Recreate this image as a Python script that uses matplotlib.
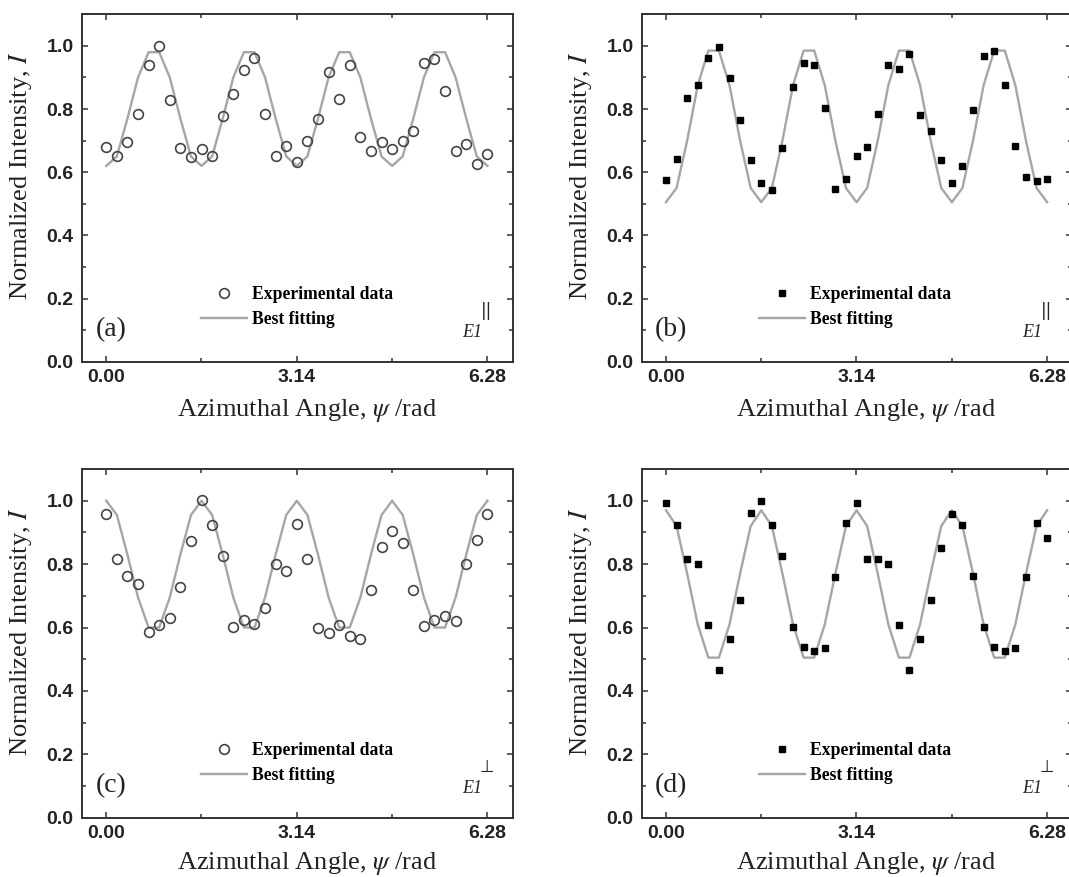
import numpy as np
import matplotlib
matplotlib.use("Agg")
import matplotlib.pyplot as plt
from matplotlib.ticker import FixedLocator, MultipleLocator

# azimuthal angle, sampled every 10 degrees
angle_deg = np.arange(0, 361, 10)
psi = np.deg2rad(angle_deg)

# (a) E1 parallel, open circles
exp_a = [0.681, 0.651, 0.696, 0.785, 0.941, 1.000, 0.830, 0.677, 0.648, 0.672,
         0.651, 0.778, 0.849, 0.923, 0.962, 0.785, 0.652, 0.683, 0.633, 0.699,
         0.768, 0.917, 0.833, 0.941, 0.711, 0.666, 0.697, 0.672, 0.700, 0.730,
         0.946, 0.959, 0.857, 0.667, 0.688, 0.626, 0.658]
fit_a = [0.62, 0.65, 0.77, 0.90, 0.98, 0.98, 0.90, 0.77, 0.65,
         0.62, 0.65, 0.77, 0.90, 0.98, 0.98, 0.90, 0.77, 0.65,
         0.62, 0.65, 0.77, 0.90, 0.98, 0.98, 0.90, 0.77, 0.65,
         0.62, 0.65, 0.77, 0.90, 0.98, 0.98, 0.90, 0.77, 0.65, 0.62]

# (b) E1 parallel, squares
exp_b = [0.576, 0.642, 0.835, 0.876, 0.963, 0.998, 0.899, 0.766, 0.640, 0.566,
         0.545, 0.676, 0.871, 0.946, 0.938, 0.804, 0.546, 0.577, 0.650, 0.679,
         0.785, 0.938, 0.927, 0.974, 0.780, 0.730, 0.640, 0.566, 0.619, 0.797,
         0.968, 0.983, 0.876, 0.683, 0.584, 0.571, 0.577]
fit_b = [0.505, 0.55, 0.70, 0.875, 0.985, 0.985, 0.875, 0.70, 0.55,
         0.505, 0.55, 0.70, 0.875, 0.985, 0.985, 0.875, 0.70, 0.55,
         0.505, 0.55, 0.70, 0.875, 0.985, 0.985, 0.875, 0.70, 0.55,
         0.505, 0.55, 0.70, 0.875, 0.985, 0.985, 0.875, 0.70, 0.55, 0.505]

# (c) E1 perpendicular, open circles
exp_c = [0.959, 0.816, 0.761, 0.737, 0.587, 0.607, 0.629, 0.729, 0.872, 1.001,
         0.922, 0.827, 0.603, 0.624, 0.612, 0.663, 0.801, 0.777, 0.926, 0.816,
         0.599, 0.584, 0.608, 0.574, 0.565, 0.719, 0.853, 0.903, 0.868, 0.719,
         0.605, 0.624, 0.635, 0.619, 0.801, 0.875, 0.959]
fit_c = [1.00, 0.955, 0.83, 0.695, 0.60, 0.60, 0.695, 0.83, 0.955,
         1.00, 0.955, 0.83, 0.695, 0.60, 0.60, 0.695, 0.83, 0.955,
         1.00, 0.955, 0.83, 0.695, 0.60, 0.60, 0.695, 0.83, 0.955,
         1.00, 0.955, 0.83, 0.695, 0.60, 0.60, 0.695, 0.83, 0.955, 1.00]

# (d) E1 perpendicular, squares
exp_d = [0.993, 0.923, 0.816, 0.801, 0.607, 0.466, 0.565, 0.687, 0.960, 1.000,
         0.923, 0.825, 0.603, 0.539, 0.525, 0.534, 0.760, 0.929, 0.993, 0.816,
         0.816, 0.801, 0.607, 0.466, 0.565, 0.687, 0.851, 0.957, 0.923, 0.761,
         0.603, 0.539, 0.525, 0.534, 0.760, 0.929, 0.883]
fit_d = [0.97, 0.92, 0.77, 0.61, 0.505, 0.505, 0.61, 0.77, 0.92,
         0.97, 0.92, 0.77, 0.61, 0.505, 0.505, 0.61, 0.77, 0.92,
         0.97, 0.92, 0.77, 0.61, 0.505, 0.505, 0.61, 0.77, 0.92,
         0.97, 0.92, 0.77, 0.61, 0.505, 0.505, 0.61, 0.77, 0.92, 0.97]

panel_tags = ['(a)', '(b)', '(c)', '(d)']
pol_marks = ['||', '||', '\u22a5', '\u22a5']
xtick_vals = [0.0, 3.14, 6.28]
xtick_labels = ['0.00', '3.14', '6.28']
xminor_vals = [1.57, 4.71]

plt.rcParams['mathtext.fontset'] = 'stix'

fig = plt.figure(figsize=(10.69, 8.77), dpi=100)

boxes = [[0.0767, 0.5876, 0.4029, 0.3961],
         [0.6003, 0.5876, 0.4029, 0.3961],
         [0.0767, 0.0676, 0.4029, 0.3976],
         [0.6003, 0.0676, 0.4029, 0.3976]]
exps = [exp_a, exp_b, exp_c, exp_d]
fits = [fit_a, fit_b, fit_c, fit_d]

spine_col = '#333333'
line_col = '#a6a6a6'

for i in range(4):
    ax = fig.add_axes(boxes[i])
    if i in (0, 2):
        ax.plot(psi, exps[i], 'o', ms=7, mfc='none', mec='#444444', mew=1.2,
                label='Experimental data', zorder=3)
    else:
        ax.plot(psi, exps[i], 's', ms=5, color='black',
                label='Experimental data', zorder=3)
    ax.plot(psi, fits[i], '-', color=line_col, lw=1.7, label='Best fitting', zorder=2)

    ax.set_xlim(-0.40, 6.70)
    ax.set_ylim(0, 1.10)
    ax.xaxis.set_major_locator(FixedLocator(xtick_vals))
    ax.set_xticklabels(xtick_labels)
    ax.xaxis.set_minor_locator(FixedLocator(xminor_vals))
    ax.yaxis.set_major_locator(MultipleLocator(0.2))
    ax.yaxis.set_minor_locator(MultipleLocator(0.1))
    ax.tick_params(which='both', direction='in', top=True, right=True,
                   color=spine_col, width=1.1)
    ax.tick_params(which='major', length=4.5)
    ax.tick_params(which='minor', length=2.8)
    ax.tick_params(axis='x', pad=5)
    ax.tick_params(axis='y', pad=6)
    for lab in ax.get_xticklabels() + ax.get_yticklabels():
        lab.set_fontfamily('Liberation Sans')
        lab.set_fontweight('bold')
        lab.set_fontsize(14)
        lab.set_color('#222222')
    for sp in ax.spines.values():
        sp.set_color(spine_col)
        sp.set_linewidth(1.4)

    ax.set_xlabel(r'Azimuthal Angle, $\psi$ /rad', fontfamily='Liberation Serif',
                  fontsize=19, color='#222222')
    ax.set_ylabel(r'Normalized Intensity, $I$', fontfamily='Liberation Serif',
                  fontsize=19, color='#222222')
    # bottom row label sits a little higher so it stays inside the figure
    ax.xaxis.set_label_coords(0.522, -0.102 if i < 2 else -0.092)
    ax.yaxis.set_label_coords(-0.111, 0.535)

    leg_x = 0.499 if i in (0, 2) else 0.495
    ax.legend(loc='center', bbox_to_anchor=(leg_x, 0.157), frameon=False,
              borderpad=0, handlelength=2.6, handletextpad=0.3, labelspacing=0.42,
              prop={'family': 'Liberation Serif', 'weight': 'bold', 'size': 12.7})

    ax.text(0.031, 0.092, panel_tags[i], transform=ax.transAxes, ha='left',
            va='center', fontfamily='Liberation Serif', fontsize=20, color='#222222')
    ax.text(0.907, 0.083, 'E1', transform=ax.transAxes, ha='center', va='center',
            fontfamily='Liberation Serif', fontstyle='italic', fontsize=13,
            color='#222222')
    ax.text(0.940, 0.145, pol_marks[i], transform=ax.transAxes, ha='center',
            va='center', family=['DejaVu Sans'], fontsize=12,
            color='#222222')

fig.savefig('out.png', dpi=100)
